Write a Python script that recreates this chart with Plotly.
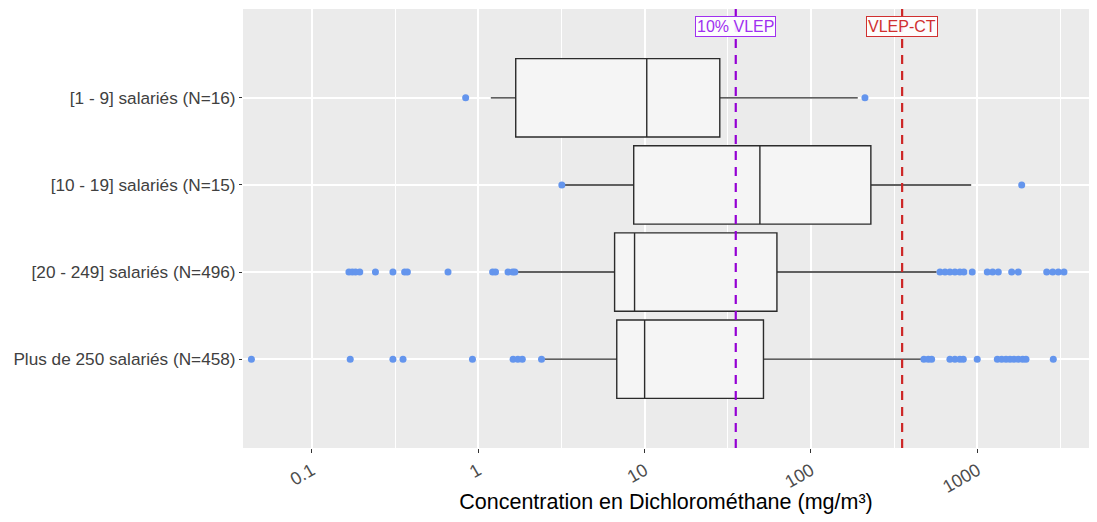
import numpy as np
import plotly.graph_objects as go

# ---------------- data ----------------
categories = ["[1 - 9] salariés (N=16)", "[10 - 19] salariés (N=15)",
              "[20 - 249] salariés (N=496)", "Plus de 250 salariés (N=458)"]

lower_fence = [1.19, 3.18, 1.70, 2.40]
q1 = [1.68, 8.6, 6.6, 6.8]
median = [10.3, 49.3, 8.7, 10.0]
q3 = [28.3, 229, 62.4, 51.8]
upper_fence = [191, 918, 569, 462]

outliers_1_9 = [0.84, 211]
outliers_10_19 = [3.18, 1847]
outliers_20_249 = [0.167, 0.175, 0.183, 0.194, 0.241, 0.307, 0.361, 0.375, 0.658,
                   1.22, 1.27, 1.51, 1.61, 1.66,
                   596, 639, 684, 733, 785, 830, 931, 1147, 1236, 1336, 1608, 1762,
                   2611, 2837, 3066, 3316]
outliers_250 = [0.0433, 0.170, 0.307, 0.353, 0.923, 1.62, 1.73, 1.84, 2.40,
                477, 507, 531, 684, 733, 785, 823, 998, 1318, 1400, 1486, 1571,
                1660, 1762, 1872, 1960, 2860]
outliers = [outliers_1_9, outliers_10_19, outliers_20_249, outliers_250]

ref_values = [35.3, 353]
ref_labels = ["10% VLEP", "VLEP-CT"]
ref_line_colors = ["#9400D3", "#CD2626"]
ref_text_colors = ["#A030F0", "#D03030"]

x_ticks = [0.1, 1, 10, 100, 1000]
x_tick_text = ["0.1", "1", "10", "100", "1000"]
x_minor = [0.0316, 0.316, 3.16, 31.6, 316, 3162]

# ---------------- figure ----------------
fig = go.Figure()

fig.add_trace(go.Box(
    y=categories, q1=q1, median=median, q3=q3,
    lowerfence=lower_fence, upperfence=upper_fence,
    orientation="h", boxpoints=False, width=0.9, whiskerwidth=0,
    fillcolor="#F5F5F5", line=dict(color="#2b2b2b", width=1.4),
    showlegend=False, hoverinfo="skip"))

for cat, pts in zip(categories, outliers):
    fig.add_trace(go.Scatter(
        x=pts, y=[cat] * len(pts), mode="markers",
        marker=dict(color="#6495ED", size=7, line=dict(width=0)),
        showlegend=False, hoverinfo="skip"))

for v, lab, lc, tc in zip(ref_values, ref_labels, ref_line_colors, ref_text_colors):
    fig.add_shape(type="line", xref="x", yref="paper", x0=v, x1=v, y0=0, y1=1,
                  line=dict(color=lc, width=2.2, dash="9px,7px"), layer="above")
    fig.add_annotation(x=np.log10(v), xref="x", y=0.959, yref="paper",
                       xanchor="center", yanchor="middle",
                       text=lab, showarrow=False,
                       font=dict(family="Liberation Sans", size=16, color=tc),
                       bgcolor="rgba(255,255,255,0.9)", bordercolor=tc,
                       borderwidth=1, borderpad=1)

fig.update_layout(
    width=1081, height=506,
    margin=dict(l=235, r=0, t=1, b=66),
    paper_bgcolor="white", plot_bgcolor="#EBEBEB",
    font=dict(family="Liberation Sans", color="#4d4d4d"),
    xaxis=dict(
        type="log", range=[-1.414, 3.671], automargin=False,
        tickmode="array", tickvals=x_ticks, ticktext=x_tick_text,
        tickangle=-30, tickfont=dict(size=18, color="#4d4d4d"),
        ticks="outside", ticklen=4, tickcolor="#333333",
        showgrid=True, gridcolor="white", gridwidth=1.8,
        minor=dict(tickvals=x_minor, showgrid=True, gridcolor="white",
                   gridwidth=0.9, ticks=""),
        zeroline=False, showline=False,
        title=dict(text="Concentration en Dichlorométhane (mg/m³)",
                   font=dict(size=21.5, color="black"), standoff=10),
    ),
    yaxis=dict(
        type="category", categoryorder="array", categoryarray=categories,
        range=[3 + 1.02, -1.02], automargin=False,
        tickfont=dict(size=17.2, color="#404040"),
        ticks="outside", ticklen=3, tickcolor="#333333",
        showgrid=True, gridcolor="white", gridwidth=1.8,
        zeroline=False, showline=False,
    ),
)

fig.write_html("out.html")
